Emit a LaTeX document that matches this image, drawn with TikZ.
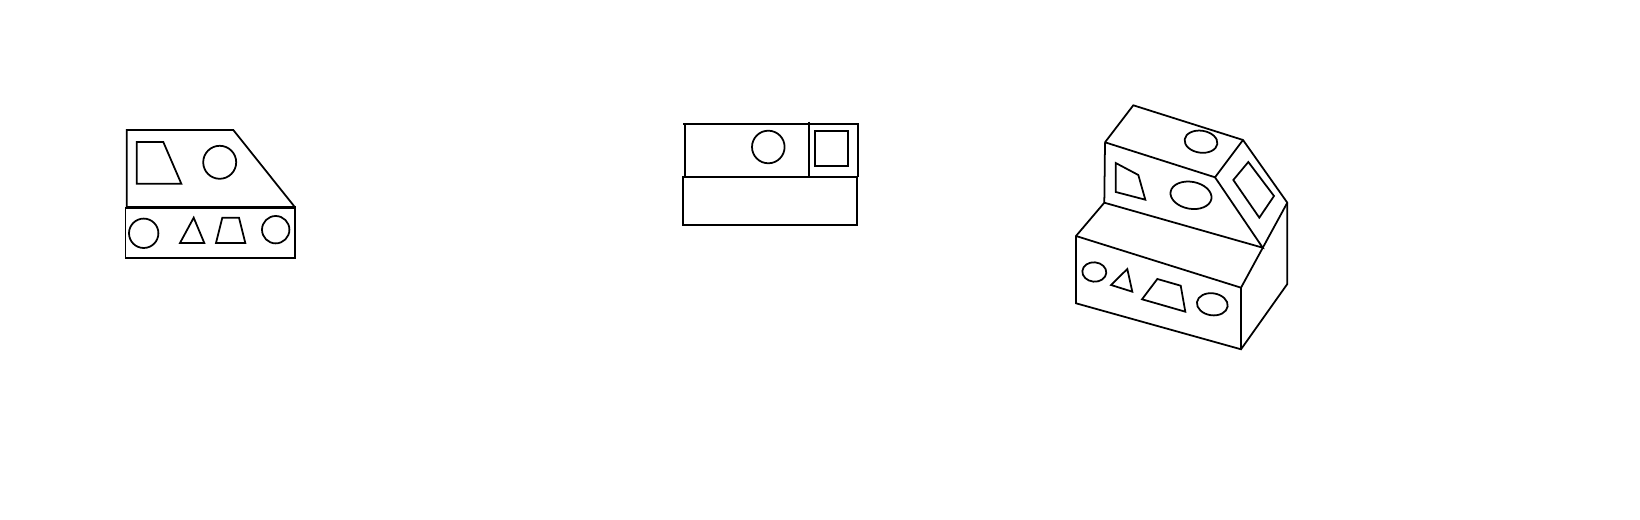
\documentclass[tikz,border=0pt]{standalone}
\usepackage{amsmath}

\begin{document}
\begin{tikzpicture}[line width=0.5pt]
            \useasboundingbox (0,0) rectangle (16.4,5.2);

            % front view
            \draw (1.267,3.127)--(1.267,3.9)--(2.333,3.9)--(2.95,3.127);
            \draw[line width=0.9pt] (1.26,3.127)--(2.96,3.127);
            \draw (1.255,3.127)--(1.255,2.623)--(2.95,2.623)--(2.95,3.127);
            \draw (1.367,3.78)--(1.633,3.78)--(1.813,3.363)--(1.367,3.363)--cycle;
            \draw (2.197,3.577) circle (0.165);
            \draw (1.437,2.867) circle (0.147);
            \draw (1.937,3.023)--(2.043,2.77)--(1.8,2.77)--cycle;
            \draw (2.223,3.023)--(2.39,3.023)--(2.453,2.77)--(2.16,2.77)--cycle;
            \draw (2.757,2.903) circle (0.137);

            % side view
            \draw (6.847,3.433)--(6.847,3.96);
            \draw (6.83,3.96)--(8.58,3.96)--(8.58,3.433);
            \draw (8.09,3.983)--(8.09,3.433);
            \draw (8.15,3.543) rectangle (8.483,3.89);
            \draw (7.683,3.73) circle (0.163);
            \draw (6.83,2.95) rectangle (8.57,3.433);

            % solid
            \coordinate (topback) at (11.333,4.147);
            \coordinate (topright) at (12.43,3.8);
            \coordinate (slope) at (12.873,3.173);
            \coordinate (topfront) at (11.05,3.777);
            \coordinate (topmid) at (12.15,3.427);
            \coordinate (stepmid) at (12.627,2.723);
            \coordinate (stepback) at (11.043,3.173);
            \coordinate (stepleft) at (10.76,2.84);
            \coordinate (stepfront) at (12.41,2.323);
            \coordinate (baseleft) at (10.76,2.167);
            \coordinate (basefront) at (12.41,1.707);
            \coordinate (baseright) at (12.873,2.36);

            \draw (topfront)--(topback)--(topright)--(slope)--(baseright)--(basefront)--(baseleft)--(stepleft)--(stepback)--(topfront);
            \draw (topfront)--(topmid)--(topright);
            \draw (topmid)--(stepmid)--(stepback);
            \draw (slope)--(stepfront)--(basefront);
            \draw (stepleft)--(stepfront);

            \draw (12.483,3.58)--(12.74,3.24)--(12.593,3.023)--(12.333,3.4)--cycle;
            \draw (11.157,3.57)--(11.383,3.45)--(11.453,3.203)--(11.157,3.28)--cycle;
            \draw[rotate around={-8:(12.01,3.783)}] (12.01,3.783) ellipse (0.165 and 0.11);
            \draw[rotate around={-10:(11.91,3.247)}] (11.91,3.247) ellipse (0.207 and 0.135);
            \draw[rotate around={-5:(10.943,2.48)}] (10.943,2.48) ellipse (0.12 and 0.097);
            \draw (11.273,2.51)--(11.323,2.283)--(11.11,2.35)--cycle;
            \draw (11.573,2.41)--(11.807,2.343)--(11.853,2.083)--(11.42,2.207)--cycle;
            \draw[rotate around={-8:(12.123,2.157)}] (12.123,2.157) ellipse (0.155 and 0.11);
        \end{tikzpicture}
\end{document}
